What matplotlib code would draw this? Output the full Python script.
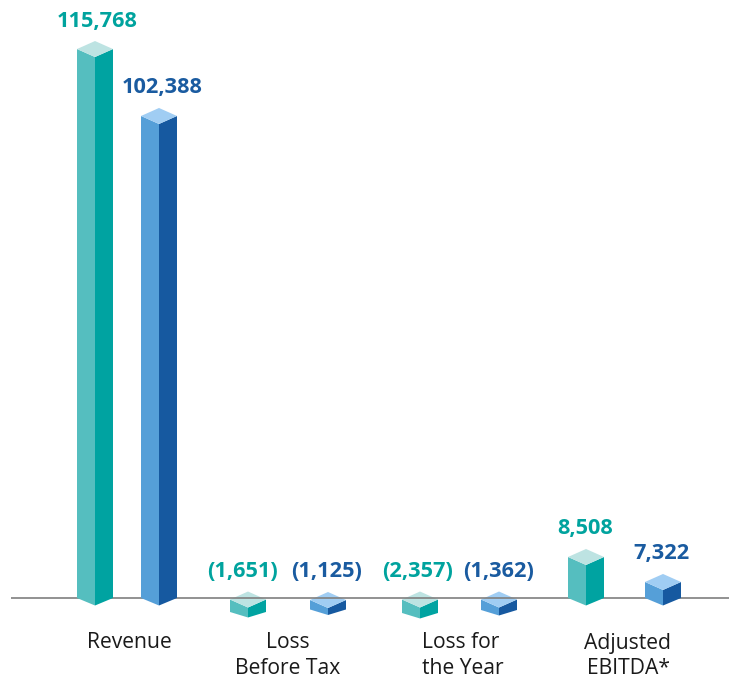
import matplotlib
matplotlib.use("Agg")
from matplotlib import pyplot as plt
from matplotlib.patches import Polygon

plt.rcParams['font.family'] = ['Open Sans', 'DejaVu Sans']

categories = ["Revenue", "Loss", "Loss for", "Adjusted"]
categories_line2 = ["", "Before Tax", "the Year", "EBITDA*"]
value_labels = ["115,768", "102,388", "(1,651)", "(1,125)", "(2,357)", "(1,362)", "8,508", "7,322"]
# the drawn prisms are not to scale in the original, so these are read off the picture
bar_tops = [115768, 101650, -320, -420, -320, -320, 8650, 3380]
bar_bottoms = [0, 0, -2950, -2420, -3160, -2530, 0, 0]

# layout, in pixels of the 729x679 figure
bar_x = [95, 159, 248, 328, 420, 499, 586, 663]
label_x = [97.5, 162.5, 243, 327, 418, 499, 585.5, 661.5]
category_x = [129.5, 288, 461, 628]
category2_x = [0, 288, 463, 629]
baseline_px = 598
px_per_unit = 0.004742
half_w = 18
depth = 8 / px_per_unit
label_gap = 20 / px_per_unit

teal = ["#55BEBF", "#00A3A1", "#BDE3E2", "#00A39E"]
blue = ["#559FD8", "#1659A0", "#A0CDF3", "#1A5BA0"]

fig = plt.figure(figsize=(7.29, 6.79), dpi=100)
ax = fig.add_axes([0, 0, 1, 1])
ax.set_xlim(0, 729)
ax.set_ylim(-(679 - baseline_px) / px_per_unit, baseline_px / px_per_unit)
ax.axis("off")

ax.plot([11, 729], [0, 0], color="#7F7F7F", lw=1.2, zorder=2, solid_capstyle="butt")


def prism(x, top, bottom, colors, z, bottom_depth):
    left, right = x - half_w, x + half_w
    ax.add_patch(Polygon([(left, top), (x, top - depth), (x, bottom - bottom_depth), (left, bottom)],
                         fc=colors[0], ec="none", zorder=z))
    ax.add_patch(Polygon([(x, top - depth), (right, top), (right, bottom), (x, bottom - bottom_depth)],
                         fc=colors[1], ec="none", zorder=z))
    ax.add_patch(Polygon([(left, top), (x, top + depth), (right, top), (x, top - depth)],
                         fc=colors[2], ec="none", zorder=z))


for i in range(len(bar_x)):
    colors = teal if i % 2 == 0 else blue
    # small negative cubes sit behind the axis line, the others in front of it
    if bar_tops[i] < 0:
        prism(bar_x[i], bar_tops[i], bar_bottoms[i], colors, 1, 5.5 / px_per_unit)
    else:
        prism(bar_x[i], bar_tops[i], bar_bottoms[i], colors, 3, 7.5 / px_per_unit)
    ax.text(label_x[i], bar_tops[i] + depth + label_gap, value_labels[i], color=colors[3],
            fontsize=15.7, fontweight="bold", ha="center", va="center")

for i in range(len(categories)):
    ax.text(category_x[i], -(643 - baseline_px) / px_per_unit, categories[i],
            color="#1A1A1A", fontsize=15.2, ha="center", va="center")
    if categories_line2[i]:
        ax.text(category2_x[i], -(668.5 - baseline_px) / px_per_unit, categories_line2[i],
                color="#1A1A1A", fontsize=15.2, ha="center", va="center")

fig.savefig("out.png", dpi=100)
